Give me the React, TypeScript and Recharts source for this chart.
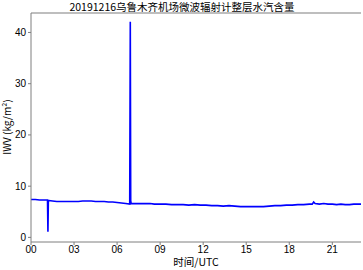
import { ComposedChart, Line, XAxis, YAxis, ReferenceLine, Customized } from "recharts";

// hours since 00 UTC and integrated water vapour (kg/m2)
const hours = [
  0, 0.3, 0.6, 0.9, 1.15, 1.18, 1.21, 1.24, 1.5, 1.8, 2.1, 2.4, 2.7, 3.0, 3.3, 3.6, 3.9, 4.2, 4.5, 4.8,
  5.1, 5.4, 5.7, 6.0, 6.3, 6.6, 6.88, 6.92, 6.95, 6.98, 7.1, 7.4, 7.7, 8.0, 8.3, 8.6, 9.0, 9.4, 9.8, 10.2,
  10.6, 11.0, 11.4, 11.8, 12.2, 12.6, 13.0, 13.4, 13.8, 14.2, 14.6, 15.0, 15.4, 15.8, 16.2, 16.6, 17.0,
  17.4, 17.8, 18.2, 18.6, 19.0, 19.4, 19.6, 19.7, 19.8, 20.1, 20.4, 20.7, 21.0, 21.3, 21.6, 21.9, 22.2,
  22.5, 22.8, 23.0,
];
const iwv = [
  7.4, 7.4, 7.3, 7.3, 7.3, 1.1, 7.2, 7.2, 7.1, 7.0, 7.0, 7.0, 7.0, 7.0, 7.0, 7.1, 7.1, 7.1, 7.0, 7.0,
  7.0, 6.9, 6.9, 6.8, 6.7, 6.6, 6.5, 42.1, 7.2, 6.6, 6.6, 6.6, 6.6, 6.6, 6.6, 6.5, 6.5, 6.5, 6.4, 6.4,
  6.4, 6.3, 6.4, 6.3, 6.3, 6.2, 6.2, 6.1, 6.2, 6.1, 6.0, 6.0, 6.0, 6.0, 6.0, 6.1, 6.2,
  6.2, 6.3, 6.3, 6.4, 6.4, 6.5, 6.5, 6.9, 6.6, 6.5, 6.6, 6.5, 6.5, 6.4, 6.5, 6.4, 6.4,
  6.5, 6.5, 6.5,
];
const xTicks = [0, 3, 6, 9, 12, 15, 18, 21];
const xMinorTicks = Array.from({ length: 24 }, (_, i) => i);
const yTicks = [0, 10, 20, 30, 40];
const yDomain = [-0.9, 43.8];

const title = "20191216乌鲁木齐机场微波辐射计整层水汽含量";
const xLabel = "时间/UTC";
const yLabel = "IWV (kg/m²)";

const data = hours.map((h, i) => ({ h, v: iwv[i] }));

const frame = "#7f7f7f";
const tickFont = { fill: "#000", fontSize: 10, fontFamily: "Liberation Sans, Arial, sans-serif" };
const cjk = "'Noto Sans CJK SC', 'Liberation Sans', sans-serif";

function Texts() {
  return (
    <g>
      <text x={182} y={11} textAnchor="middle" fontSize={10.5} fontFamily={cjk} fill="#000">
        {title}
      </text>
      <text x={196} y={266} textAnchor="middle" fontSize={10.5} fontFamily={cjk} fill="#000">
        {xLabel}
      </text>
      <text
        x={11}
        y={127}
        textAnchor="middle"
        fontSize={10}
        fontFamily={cjk}
        fill="#000"
        transform="rotate(-90 11 127)"
      >
        {yLabel}
      </text>
    </g>
  );
}

export default function App() {
  return (
    <div style={{ position: "absolute", left: 0, top: 0, background: "#fff" }}>
      <ComposedChart width={363} height={270} data={data} margin={{ top: 13, right: 2, bottom: 0, left: 0 }}>
        <XAxis
          xAxisId="main"
          dataKey="h"
          type="number"
          domain={[0, 23]}
          ticks={xTicks}
          tickFormatter={(t: number) => String(t).padStart(2, "0")}
          tick={tickFont}
          tickSize={3}
          tickMargin={1}
          stroke={frame}
          height={28}
          allowDataOverflow
        />
        <XAxis
          xAxisId="minor"
          dataKey="h"
          type="number"
          domain={[0, 23]}
          ticks={xMinorTicks}
          tickFormatter={() => ""}
          tickSize={2}
          axisLine={false}
          stroke={frame}
          height={0}
        />
        <YAxis
          yAxisId="main"
          type="number"
          domain={yDomain}
          ticks={yTicks}
          tick={tickFont}
          tickSize={3}
          tickMargin={2}
          stroke={frame}
          width={31}
          allowDataOverflow
        />
        <YAxis yAxisId="right" orientation="right" type="number" domain={[0, 1]} tick={false} tickLine={false} stroke={frame} width={0} />
        <ReferenceLine xAxisId="main" yAxisId="main" y={yDomain[1]} stroke={frame} strokeWidth={1.2} />
        <Line
          xAxisId="main"
          yAxisId="main"
          dataKey="v"
          type="linear"
          stroke="#0000ff"
          strokeWidth={1.6}
          dot={false}
          isAnimationActive={false}
        />
        <Customized component={Texts} />
      </ComposedChart>
    </div>
  );
}
